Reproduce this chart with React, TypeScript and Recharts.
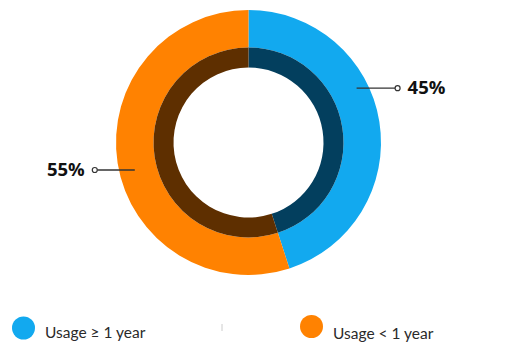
import React from "react";
import { PieChart, Pie, Cell, Legend } from "recharts";

const categories = ["Usage ≥ 1 year", "Usage < 1 year"];
const values = [45, 55];
const labels = ["45%", "55%"];
const outerColors = ["#12A9EF", "#FF8201"];
const innerColors = ["#033F5E", "#5E2F00"];

const data = categories.map((name, i) => ({ name, value: values[i] }));

const labelAnchor = [
  { angle: 26.7, r: 121, len: 41, side: 1 },
  { angle: 193.6, r: 117, len: 40, side: -1 },
];

const RAD = Math.PI / 180;

const renderLabel = (props: any) => {
  const { cx, cy, index } = props;
  const a = labelAnchor[index];
  const sx = cx + a.r * Math.cos(a.angle * RAD);
  const sy = cy - a.r * Math.sin(a.angle * RAD);
  const ex = sx + a.side * a.len;
  return (
    <g key={`lbl-${index}`}>
      <line x1={sx} y1={sy} x2={ex - a.side * 2.5} y2={sy} stroke="#333" strokeWidth={1.3} />
      <circle cx={ex} cy={sy} r={2.5} fill="#fff" stroke="#333" strokeWidth={1.2} />
      <text
        x={ex + a.side * 10}
        y={sy + 1}
        textAnchor={a.side > 0 ? "start" : "end"}
        dominantBaseline="middle"
        fontFamily="'Open Sans', sans-serif"
        fontWeight={700}
        fontSize={18.5}
        fill="#111"
      >
        {labels[index]}
      </text>
    </g>
  );
};

const renderLegend = () => (
  <svg width={505} height={45}>
    {categories.map((c, i) => {
      const x = i === 0 ? 23.5 : 311.5;
      const y = i === 0 ? 28 : 26.5;
      return (
        <g key={c}>
          <circle cx={x} cy={y} r={11.5} fill={outerColors[i]} />
          <text
            x={x + 21.5}
            y={y + 10 + (i === 0 ? 0 : 2)}
            fontFamily="Lato, sans-serif"
            fontSize={15.5}
            fill="#2a2a2a"
          >
            {c}
          </text>
        </g>
      );
    })}
    <line x1={222} y1={24} x2={222} y2={31} stroke="#ccc" strokeWidth={1} />
  </svg>
);

export default function App() {
  return (
    <div style={{ position: "absolute", left: 0, top: 0, width: 505, height: 345, background: "#fff" }}>
      <PieChart width={505} height={345} margin={{ top: 0, right: 0, bottom: 0, left: 0 }}>
        <Pie
          data={data}
          dataKey="value"
          cx={248.5}
          cy={142.5}
          innerRadius={95}
          outerRadius={132.5}
          startAngle={90}
          endAngle={-270}
          stroke="none"
          isAnimationActive={false}
          label={renderLabel}
          labelLine={false}
        >
          {data.map((d, i) => (
            <Cell key={d.name} fill={outerColors[i]} />
          ))}
        </Pie>
        <Pie
          data={data}
          dataKey="value"
          cx={248.5}
          cy={142.5}
          innerRadius={75}
          outerRadius={95}
          startAngle={90}
          endAngle={-270}
          stroke="none"
          isAnimationActive={false}
        >
          {data.map((d, i) => (
            <Cell key={d.name} fill={innerColors[i]} />
          ))}
        </Pie>
        <Legend
          content={renderLegend}
          wrapperStyle={{ position: "absolute", left: 0, top: 300, width: 505, height: 45 }}
        />
      </PieChart>
    </div>
  );
}
